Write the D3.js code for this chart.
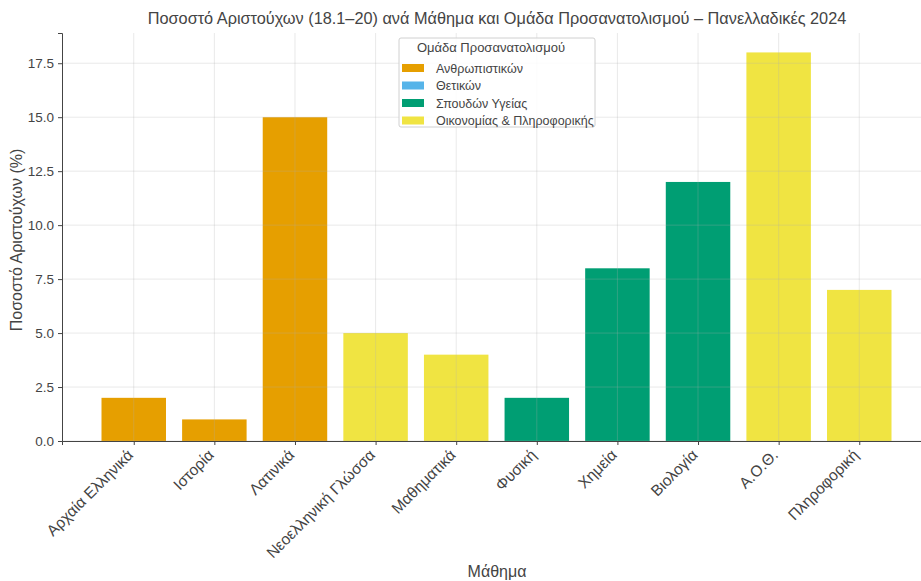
<!DOCTYPE html>
<html><head><meta charset="utf-8">
<script src="https://cdn.jsdelivr.net/npm/d3@7"></script>
<style>body{margin:0;background:#fff}svg{display:block}text{font-family:"Liberation Sans",Arial,sans-serif}</style>
</head><body>
<script>
const subjects = ["Αρχαία Ελληνικά","Ιστορία","Λατινικά","Νεοελληνική Γλώσσα","Μαθηματικά","Φυσική","Χημεία","Βιολογία","Α.Ο.Θ.","Πληροφορική"];
const values = [2,1,15,5,4,2,8,12,18,7];
const subjectGroups = ["Ανθρωπιστικών","Ανθρωπιστικών","Ανθρωπιστικών","Οικονομίας & Πληροφορικής","Οικονομίας & Πληροφορικής","Σπουδών Υγείας","Σπουδών Υγείας","Σπουδών Υγείας","Οικονομίας & Πληροφορικής","Οικονομίας & Πληροφορικής"];
const groups = ["Ανθρωπιστικών","Θετικών","Σπουδών Υγείας","Οικονομίας & Πληροφορικής"];
const groupColors = ["#E69F00","#56B4E9","#009E73","#F0E442"];
const yTicks = [0,2.5,5,7.5,10,12.5,15,17.5];

const W=921,H=581;
const m={left:62,top:33,right:931,bottom:441};
const svg=d3.select("body").append("svg").attr("width",W).attr("height",H);
const n=subjects.length;
const x=d3.scaleLinear().domain([-0.89,n-1+0.89]).range([m.left,m.right]);
const y=d3.scaleLinear().domain([0,18.9]).range([m.bottom,m.top]);
const color=d3.scaleOrdinal().domain(groups).range(groupColors);

// bars
svg.append("g").selectAll("rect").data(subjects).join("rect")
  .attr("x",(d,i)=>x(i-0.4)).attr("width",(d,i)=>x(i+0.4)-x(i-0.4))
  .attr("y",(d,i)=>y(values[i])).attr("height",(d,i)=>y(0)-y(values[i]))
  .attr("fill",(d,i)=>color(subjectGroups[i]));

// grid
const grid=svg.append("g").attr("stroke","#b0b0b0").attr("stroke-opacity",0.35).attr("stroke-width",0.8);
grid.selectAll(".h").data(yTicks).join("line").attr("x1",m.left).attr("x2",m.right).attr("y1",d=>y(d)).attr("y2",d=>y(d));
grid.selectAll(".v").data(d3.range(n)).join("line").attr("x1",d=>x(d)).attr("x2",d=>x(d)).attr("y1",m.top).attr("y2",m.bottom);

// axes
const yAxis=d3.axisLeft(y).tickValues(yTicks).tickFormat(d3.format(".1f")).tickSize(4).tickPadding(4);
const gy=svg.append("g").attr("transform",`translate(${m.left},0)`).call(yAxis);
const xAxis=d3.axisBottom(x).tickValues(d3.range(n)).tickFormat(i=>subjects[i]).tickSize(4).tickPadding(3);
const gx=svg.append("g").attr("transform",`translate(0,${m.bottom})`).call(xAxis);
[gy,gx].forEach(g=>{g.select(".domain").attr("stroke","#444").attr("stroke-width",1);g.selectAll(".tick line").attr("stroke","#444");g.selectAll("text").attr("fill","#444").attr("font-size",13.5).attr("font-family","Liberation Sans");});
gx.selectAll(".tick text").attr("font-size",15.5).attr("text-anchor","end").attr("dy",0).attr("transform","translate(-5,10) rotate(-45)");

// titles
svg.append("text").attr("x",497).attr("y",24).attr("text-anchor","middle").attr("font-size",16.3).attr("fill","#444")
  .text("Ποσοστό Αριστούχων (18.1–20) ανά Μάθημα και Ομάδα Προσανατολισμού – Πανελλαδικές 2024");
svg.append("text").attr("transform",`translate(22,${(m.top+m.bottom)/2+3}) rotate(-90)`).attr("text-anchor","middle").attr("font-size",16).attr("fill","#444").text("Ποσοστό Αριστούχων (%)");
svg.append("text").attr("x",497).attr("y",577).attr("text-anchor","middle").attr("font-size",16).attr("fill","#444").text("Μάθημα");

// legend
const lg=svg.append("g").attr("transform","translate(399,38)");
lg.append("rect").attr("width",196).attr("height",89).attr("rx",2).attr("fill","#fff").attr("fill-opacity",0.85).attr("stroke","#d0d0d0");
lg.append("text").attr("x",92).attr("y",14).attr("text-anchor","middle").attr("font-size",13).attr("fill","#444").text("Ομάδα Προσανατολισμού");
const items=lg.selectAll(".it").data(groups).join("g").attr("transform",(d,i)=>`translate(3,${30+i*17.5})`);
items.append("rect").attr("width",22).attr("height",8).attr("y",-4).attr("fill",d=>color(d));
items.append("text").attr("x",34).attr("y",4.5).attr("font-size",12.5).attr("fill","#444").text(d=>d);
</script>
</body></html>
